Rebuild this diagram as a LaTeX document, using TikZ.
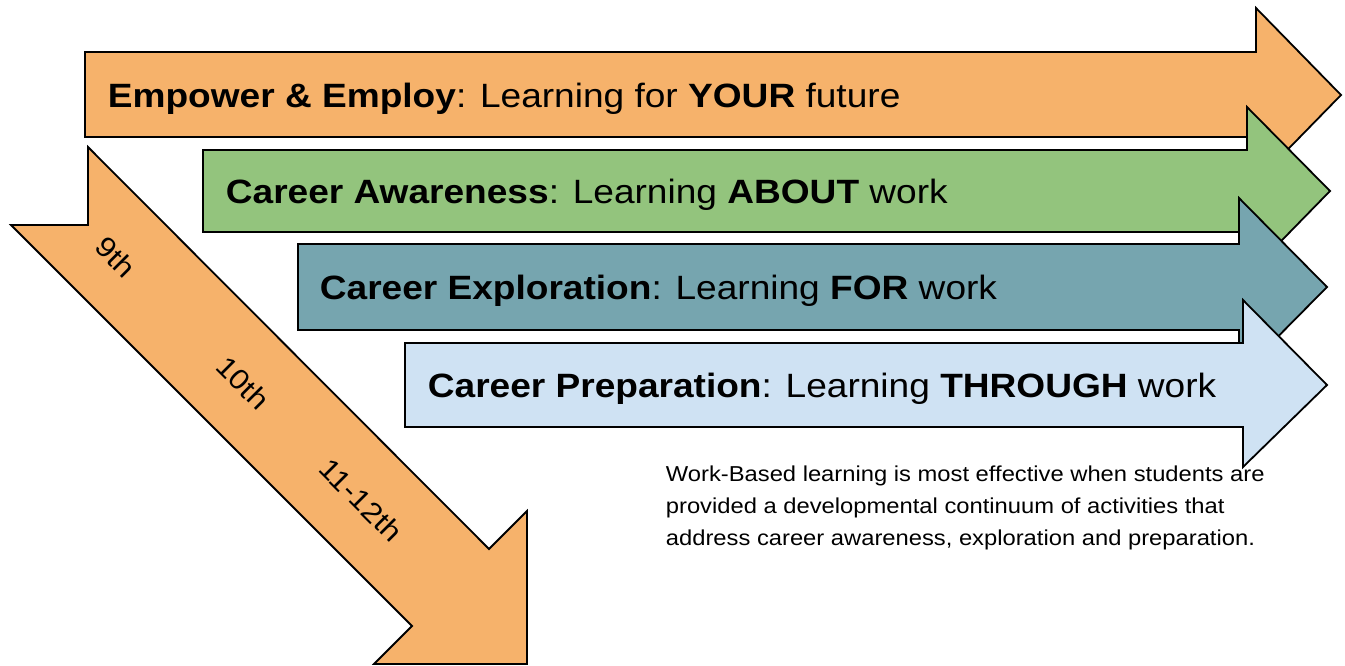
\documentclass[tikz,border=0pt]{standalone}
\usepackage{fontspec}
\setmainfont[FakeStretch=1.1]{Liberation Sans}
\definecolor{orgarrow}{HTML}{F6B26B}
\definecolor{grnarrow}{HTML}{93C47D}
\definecolor{tealarrow}{HTML}{76A5AF}
\definecolor{bluarrow}{HTML}{CFE2F3}

\begin{document}
\begin{tikzpicture}[x=0.5pt, y=-0.5pt, line width=0.9pt,
	rowtext/.style={anchor=base west, inner sep=0pt, font=\fontsize{16.85}{20}\selectfont},
	grade/.style={rotate=-45, inner sep=0pt, font=\fontsize{14.2}{16}\selectfont}]

	\useasboundingbox (0, 0) rectangle (1345, 665);

	% the four stages, drawn from top to bottom so each head covers the one above
	\filldraw[fill=orgarrow] (85, 52) -- (1256, 52) -- (1256, 8) -- (1341, 95) -- (1256, 182) -- (1256, 137) -- (85, 137) -- cycle;
	\filldraw[fill=grnarrow] (203, 150) -- (1247, 150) -- (1247, 107) -- (1330, 191) -- (1247, 276) -- (1247, 232) -- (203, 232) -- cycle;
	\filldraw[fill=tealarrow] (298, 244) -- (1239, 244) -- (1239, 198) -- (1327, 287) -- (1239, 376) -- (1239, 330) -- (298, 330) -- cycle;
	\filldraw[fill=bluarrow] (405, 343) -- (1243, 343) -- (1243, 300) -- (1327, 385) -- (1243, 467) -- (1243, 427) -- (405, 427) -- cycle;

	\node[rowtext] (empower) at (107, 107) {\textbf{Empower \& Employ}: Learning for \textbf{YOUR} future};
	\node[rowtext] (awareness) at (225, 203) {\textbf{Career Awareness}: Learning \textbf{ABOUT} work};
	\node[rowtext] (exploration) at (319, 299) {\textbf{Career Exploration}: Learning \textbf{FOR} work};
	\node[rowtext] (preparation) at (427, 397) {\textbf{Career Preparation}: Learning \textbf{THROUGH} work};

	% notched arrow for the grades
	\filldraw[fill=orgarrow] (88, 147) -- (489, 549) -- (527, 511) -- (527, 664) -- (374, 664) -- (412, 626) -- (11, 225) -- (88, 225) -- cycle;
	\node[grade] (g9) at (116, 257) {9th};
	\node[grade] (g10) at (243, 383) {10th};
	\node[grade] (g11) at (361, 500) {11-12th};

	\node[anchor=north west, inner sep=0pt, align=left, font=\fontsize{10.8}{16}\selectfont] (note) at (665, 465)
		{Work-Based learning is most effective when students are\\
		provided a developmental continuum of activities that\\
		address career awareness, exploration and preparation.};
\end{tikzpicture}
\end{document}
